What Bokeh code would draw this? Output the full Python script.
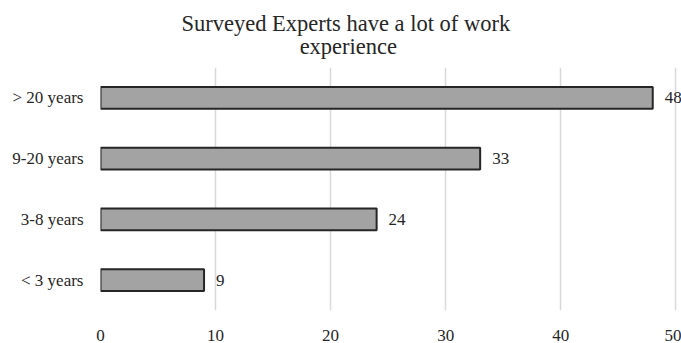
from bokeh.plotting import figure
from bokeh.models import ColumnDataSource, FactorRange, Range1d, FixedTicker, Title, LabelSet
from bokeh.embed import file_html
from bokeh.resources import INLINE

# Years of work experience of the surveyed experts (bottom to top)
categories = ["< 3 years", "3-8 years", "9-20 years", "> 20 years"]
counts = [9, 24, 33, 48]
x_ticks = [0, 10, 20, 30, 40, 50]
title_lines = ["Surveyed Experts have a lot of work", "experience"]

FONT = "Liberation Serif"
TEXT = "#262626"

src = ColumnDataSource(dict(cat=categories, n=counts, lbl=[str(c) for c in counts]))

p = figure(
    width=681, height=343,
    y_range=FactorRange(*categories, range_padding=0),
    x_range=Range1d(0, 50.5),
    output_backend="svg", toolbar_location=None,
    min_border_left=100, min_border_right=0, min_border_bottom=33, min_border_top=0,
)

# Two-line title; the second line is indented with no-break spaces so that
# it sits centred under the first
indent = "\u00a0" * 21
p.add_layout(Title(text=title_lines[0] + "\n" + indent + title_lines[1],
                   align="left", offset=81, standoff=17,
                   text_font=FONT, text_font_size="22.5px", text_line_height=0.93,
                   text_font_style="normal", text_color=TEXT), "above")

p.hbar(y="cat", right="n", left=0, height=0.36, source=src,
       fill_color="#a3a3a3", line_color="#262626", line_width=2)

p.add_layout(LabelSet(x="n", y="cat", text="lbl", source=src, x_offset=12,
                      text_baseline="middle", text_align="left",
                      text_font=FONT, text_font_size="17px", text_color=TEXT))

p.xaxis.ticker = FixedTicker(ticks=x_ticks)
for ax in (p.xaxis[0], p.yaxis[0]):
    ax.axis_line_color = None
    ax.major_tick_line_color = None
    ax.minor_tick_line_color = None
    ax.major_label_text_font = FONT
    ax.major_label_text_font_size = "17px"
    ax.major_label_text_color = TEXT
p.xaxis.major_label_standoff = 13
p.yaxis.major_label_standoff = 11

p.ygrid.grid_line_color = None
p.xgrid.grid_line_color = "#d9d9d9"
p.xgrid.grid_line_width = 1.5
p.outline_line_color = None

open("out.html", "w").write(file_html(p, INLINE))
